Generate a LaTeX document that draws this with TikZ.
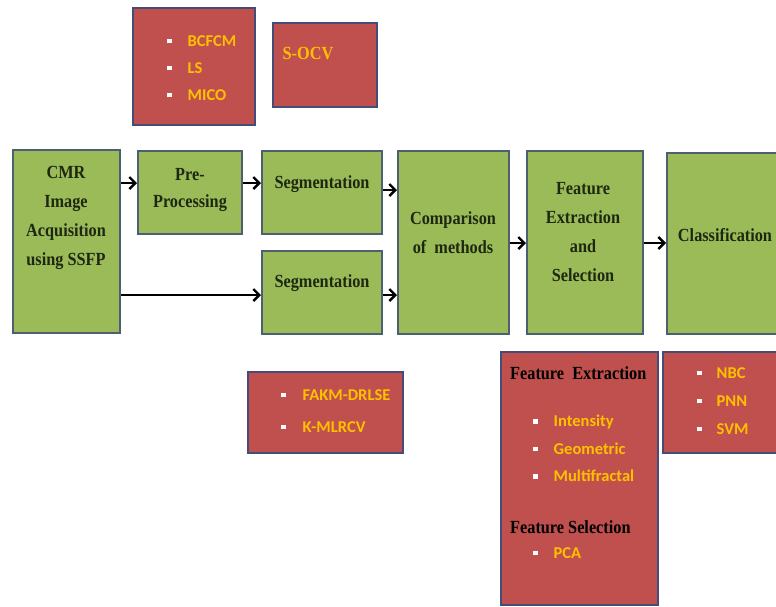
\documentclass[tikz,border=0pt]{standalone}
\usepackage{fontspec}
\setmainfont{Liberation Serif}
\newfontfamily\gfont[FakeStretch=0.88]{Liberation Serif}
\newfontfamily\calfont{Carlito}
\usetikzlibrary{arrows.meta}
\definecolor{gfill}{HTML}{9BBB59}
\definecolor{gline}{HTML}{4D6072}
\definecolor{rfill}{HTML}{C0504D}
\definecolor{rline}{HTML}{464C78}
\definecolor{gtext}{HTML}{1E2810}
\definecolor{otext}{HTML}{FFC000}
\newcommand{\bul}[1][16pt]{\textcolor{white}{\rule[3pt]{4.5pt}{4.5pt}}\hspace{#1}}
\tikzset{
  gbox/.style={draw=gline, fill=gfill, line width=2pt, inner sep=0pt},
  rbox/.style={draw=rline, fill=rfill, line width=2pt, inner sep=0pt},
  gtxt/.style={text=gtext, font=\gfont\bfseries\fontsize{18.5}{29}\selectfont, align=center, inner sep=0pt},
  otxt/.style={text=otext, font=\calfont\bfseries\fontsize{16.5}{27}\selectfont, align=left, inner sep=0pt, anchor=west},
  htxt/.style={text=black, font=\gfont\bfseries\fontsize{18.5}{20}\selectfont, inner sep=0pt, anchor=west},
  arr/.style={draw=black, line width=2.6pt, -{Straight Barb[length=6pt,width=12pt,line width=2.4pt]}}
}
\begin{document}
\begin{tikzpicture}[x=1pt,y=-1pt]
\useasboundingbox (0,0) rectangle (776,606);
\clip (0,0) rectangle (776,606);
% red boxes
\node[rbox, minimum width=122pt, minimum height=117pt] (r1) at (194,66.5) {};
\node[rbox, minimum width=104pt, minimum height=84pt] (r2) at (325,65) {};
\node[rbox, minimum width=155pt, minimum height=81pt] (fakm) at (325.5,412.5) {};
\node[rbox, minimum width=157pt, minimum height=253pt] (fx) at (579.5,478.5) {};
\node[rbox, minimum width=127pt, minimum height=101pt] (nbc) at (726.5,402.5) {};
% green boxes
\node[gbox, minimum width=107pt, minimum height=183pt] (cmr) at (66.5,241.5) {};
\node[gbox, minimum width=104pt, minimum height=83pt] (pre) at (190,192.5) {};
\node[gbox, minimum width=120pt, minimum height=83pt] (sega) at (322,192.5) {};
\node[gbox, minimum width=120pt, minimum height=83pt] (segb) at (322,292.5) {};
\node[gbox, minimum width=111pt, minimum height=183pt] (comp) at (453.5,242.5) {};
\node[gbox, minimum width=116pt, minimum height=183pt] (feat) at (585,242.5) {};
\node[gbox, minimum width=118pt, minimum height=181pt] (cls) at (726,243.5) {};
% green texts
\node[gtxt] (tcmr) at (66,218) {CMR\\Image\\Acquisition\\using SSFP};
\node[gtxt, font=\gfont\bfseries\fontsize{18.5}{27}\selectfont] (tpre) at (190,190) {Pre-\\Processing};
\node[gtxt] (tsega) at (322,184) {Segmentation};
\node[gtxt] (tsegb) at (322,283) {Segmentation};
\node[gtxt] (tcomp) at (453,233) {Comparison\\of\ \ methods};
\node[gtxt] (tfeat) at (583,232) {Feature\\Extraction\\and\\Selection};
\node[gtxt] (tcls) at (725,235) {Classification};
% red texts
\node[otxt] (tr1) at (167,68) {\bul BCFCM\\\bul LS\\\bul MICO};
\node[otxt, font=\gfont\bfseries\fontsize{18.5}{20}\selectfont, anchor=center] (tr2) at (308,54) {S-OCV};
\node[otxt, font=\calfont\bfseries\fontsize{16.5}{32}\selectfont] (tfakm) at (281,411) {\bul[17pt]FAKM-DRLSE\\\bul[17pt]K-MLRCV};
\node[htxt] (tfx) at (510,373) {Feature\ \ Extraction};
\node[otxt, font=\calfont\bfseries\fontsize{16.5}{27.5}\selectfont] (tfxl) at (533,448.5) {\bul Intensity\\\bul Geometric\\\bul Multifractal};
\node[htxt] (tfs) at (510,527) {Feature Selection};
\node[otxt] (tpca) at (533,553) {\bul PCA};
\node[otxt, font=\calfont\bfseries\fontsize{16.5}{28}\selectfont] (tnbc) at (697,401) {\bul[15pt]NBC\\\bul[15pt]PNN\\\bul[15pt]SVM};
% arrows
\draw[arr] (cmr.east |- 0,183) -- (pre.west |- 0,183);
\draw[arr] (pre.east |- 0,183) -- (sega.west |- 0,183);
\draw[arr] (cmr.east |- 0,295) -- (segb.west |- 0,295);
\draw[arr] (sega.east |- 0,190) -- (comp.west |- 0,190);
\draw[arr] (segb.east |- 0,295) -- (comp.west |- 0,295);
\draw[arr] (comp.east |- 0,243) -- (feat.west |- 0,243);
\draw[arr] (feat.east |- 0,243) -- (cls.west |- 0,243);
\end{tikzpicture}
\end{document}
